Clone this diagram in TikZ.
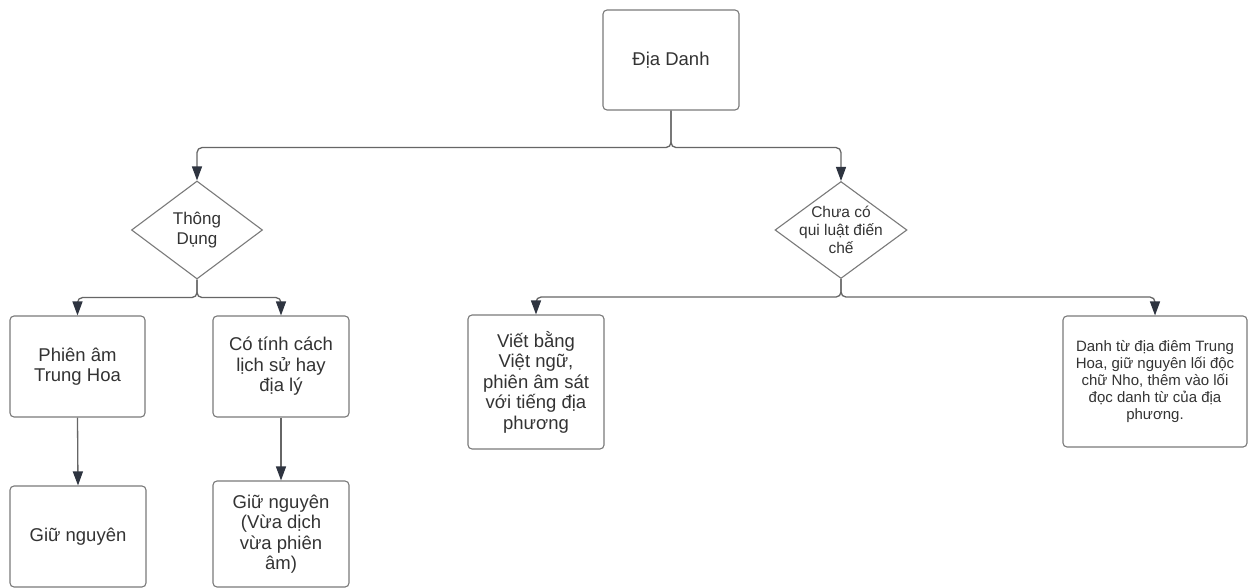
\documentclass[tikz,border=0pt]{standalone}
\usepackage{fontspec}
\setmainfont{Liberation Sans}
\usetikzlibrary{shapes.geometric,arrows.meta}
\definecolor{ink}{HTML}{333333}
\definecolor{edge}{HTML}{7A7A7A}
\definecolor{wire}{HTML}{666666}
\definecolor{tipc}{HTML}{2E3440}
\tikzset{
  card/.style={draw=edge, line width=1.1pt, rounded corners=4pt, fill=white,
    text=ink, align=center, inner sep=0pt},
  decide/.style={draw=edge, line width=1.1pt, diamond, fill=white, inner sep=0pt},
  mid/.style={font=\fontsize{18.5}{20.5}\selectfont},
  small/.style={font=\fontsize{15}{17}\selectfont},
  flow/.style={draw=wire, line width=1.3pt, rounded corners=5pt,
    -{Triangle[length=14pt,width=10pt,color=tipc]}},
}
\begin{document}
\begin{tikzpicture}[x=1pt,y=-1pt]
  \useasboundingbox[fill=white] (0,0) rectangle (1249,588);

  % root
  \node[card, mid, minimum width=136pt, minimum height=100pt] (top) at (671,60) {Địa Danh};

  % decisions
  \node[decide, minimum width=131pt, minimum height=98pt,
        label={[text=ink, align=center, font=\fontsize{17}{20}\selectfont]center:{Thông\\Dụng}}]
        (d1) at (197,230) {};
  \node[decide, minimum width=132pt, minimum height=97pt,
        label={[text=ink, align=center, font=\fontsize{15.5}{18}\selectfont]center:{Chưa có\\qui luật điến\\chế}}]
        (d2) at (841,230) {};

  % left branch
  \node[card, mid, minimum width=135pt, minimum height=101pt] (b1) at (77.5,366.5) {Phiên âm\\Trung Hoa};
  \node[card, mid, minimum width=136pt, minimum height=101pt] (b2) at (281,366.5) {Có tính cách\\lịch sử hay\\địa lý};
  \node[card, mid, minimum width=136pt, minimum height=101pt] (b3) at (78,536.5) {Giữ nguyên};
  \node[card, mid, minimum width=136pt, minimum height=106pt] (b4) at (281,534) {Giữ nguyên\\(Vừa dịch\\vừa phiên\\âm)};

  % right branch
  \node[card, mid, minimum width=136pt, minimum height=134pt] (b5) at (536,382) {Viết bằng\\Việt ngữ,\\phiên âm sát\\với tiếng địa\\phương};
  \node[card, small, minimum width=184pt, minimum height=131pt] (b6) at (1155,381.5) {Danh từ địa điêm Trung\\Hoa, giữ nguyên lối độc\\chữ Nho, thêm vào lối\\đọc danh từ của địa\\phương.};

  % connectors
  \draw[flow] (top.south) -- ++(0,37) -| (d1.north);
  \draw[flow] (top.south) -- ++(0,37) -| (d2.north);
  \draw[flow] (d1.south) -- ++(0,18) -| (b1.north);
  \draw[flow] (d1.south) -- ++(0,18) -| (b2.north);
  \draw[flow] (d2.south) -- ++(0,18) -| (b5.north);
  \draw[flow] (d2.south) -- ++(0,18) -| (b6.north);
  \draw[flow] (b1.south) -- (b3.north);
  \draw[flow] (b2.south) -- (b4.north);
\end{tikzpicture}
\end{document}
